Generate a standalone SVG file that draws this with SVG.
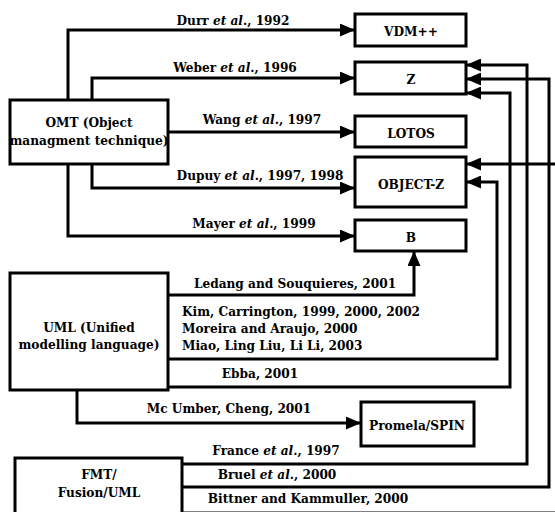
<svg xmlns="http://www.w3.org/2000/svg" width="555" height="512" viewBox="0 0 555 512">
<style>
.box{fill:#fff;stroke:#000;stroke-width:3}
.ln{fill:none;stroke:#000;stroke-width:3;marker-end:url(#ah)}
text{font-family:"DejaVu Serif Condensed","DejaVu Serif",serif;font-stretch:condensed;font-size:13.5px;font-weight:bold;fill:#000}
.c{text-anchor:middle}
.i{font-style:italic}
</style>
<defs>
<marker id="ah" markerUnits="userSpaceOnUse" markerWidth="15" markerHeight="13" refX="15" refY="6.5" orient="auto">
<path d="M0,0 L15,6.5 L0,13 z" fill="#000"/>
</marker>
</defs>
<rect width="555" height="512" fill="#fff"/>
<g id="connectors">
<path class="ln" d="M68,100 V30 H355"/>
<path class="ln" d="M92,100 V78 H355"/>
<path class="ln" d="M168,132 H355"/>
<path class="ln" d="M92,164 V188 H355"/>
<path class="ln" d="M68,164 V236 H355"/>
<path class="ln" d="M168,295 H414 V251"/>
<path class="ln" d="M168,359 H497 V182 H466"/>
<path class="ln" d="M168,387 H510 V93 H466"/>
<path class="ln" d="M77,390 V423 H361"/>
<path class="ln" d="M182,464 H527 V65 H466"/>
<path class="ln" d="M182,487 H549 V79 H466"/>
<path class="ln" d="M182,513 H557 V164 H466"/>
<text class="c" x="233" y="25">Durr <tspan class="i">et al</tspan>., 1992</text>
<text class="c" x="235" y="72">Weber <tspan class="i">et al</tspan>., 1996</text>
<text class="c" x="262" y="124">Wang <tspan class="i">et al</tspan>., 1997</text>
<text class="c" x="260" y="180">Dupuy <tspan class="i">et al</tspan>., 1997, 1998</text>
<text class="c" x="254" y="228">Mayer <tspan class="i">et al</tspan>., 1999</text>
<text class="c" x="295" y="288">Ledang and Souquieres, 2001</text>
<text x="182" y="316">Kim, Carrington, 1999, 2000, 2002</text>
<text x="182" y="333">Moreira and Araujo, 2000</text>
<text x="182" y="350">Miao, Ling Liu, Li Li, 2003</text>
<text class="c" x="260" y="378">Ebba, 2001</text>
<text class="c" x="229" y="413">Mc Umber, Cheng, 2001</text>
<text class="c" x="276" y="455">France <tspan class="i">et al</tspan>., 1997</text>
<text class="c" x="277" y="479">Bruel <tspan class="i">et al</tspan>., 2000</text>
<text class="c" x="308" y="503">Bittner and Kammuller, 2000</text>
</g>
<g id="omt"><rect class="box" x="10" y="100" width="158" height="64"/>
<text class="c" x="89" y="127">OMT (Object</text><text class="c" x="89" y="145">managment technique)</text></g>
<g id="uml"><rect class="box" x="10" y="273" width="158" height="117"/>
<text class="c" x="89" y="332">UML (Unified</text><text class="c" x="89" y="349">modelling language)</text></g>
<g id="fmt"><rect class="box" x="15" y="458" width="167" height="70"/>
<text class="c" x="99" y="479">FMT/</text><text class="c" x="99" y="497">Fusion/UML</text></g>
<g id="vdm"><rect class="box" x="355" y="14" width="111" height="32"/><text class="c" x="411" y="36">VDM++</text></g>
<g id="z"><rect class="box" x="355" y="62" width="111" height="32"/><text class="c" x="411" y="84">Z</text></g>
<g id="lotos"><rect class="box" x="355" y="116" width="111" height="31"/><text class="c" x="411" y="138">LOTOS</text></g>
<g id="objectz"><rect class="box" x="355" y="157" width="111" height="50"/><text class="c" x="411" y="189">OBJECT-Z</text></g>
<g id="b"><rect class="box" x="355" y="220" width="111" height="31"/><text class="c" x="411" y="242">B</text></g>
<g id="promela"><rect class="box" x="361" y="402" width="113" height="44"/><text class="c" x="417" y="430">Promela/SPIN</text></g>
</svg>
